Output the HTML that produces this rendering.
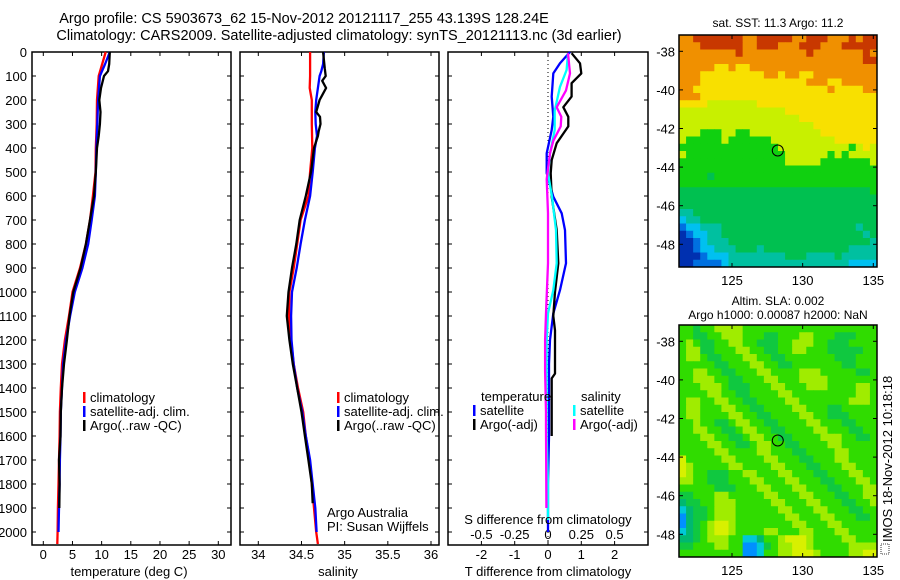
<!DOCTYPE html>
<html><head><meta charset="utf-8"><style>
html,body{margin:0;padding:0;background:#fff;}
svg{display:block;font-family:"Liberation Sans",sans-serif;}
text{fill:#000;}
</style></head><body>
<svg id="fig" width="900" height="580" viewBox="0 0 900 580">
<g font-size="14.5" text-anchor="middle">
<text x="304" y="23">Argo profile: CS 5903673_62 15-Nov-2012 20121117_255 43.139S 128.24E</text>
<text x="339" y="40">Climatology: CARS2009. Satellite-adjusted climatology: synTS_20121113.nc (3d earlier)</text>
</g>
<g id="p1"></g>
<g id="p2"></g>
<g id="p3"></g>
<g id="m1"></g>
<g id="m2"></g>
<g>
<rect x="881" y="544" width="8" height="10" fill="none" stroke="#000" stroke-width="0.8" stroke-dasharray="1,1"/>
<text x="0" y="0" font-size="13" transform="translate(892,542) rotate(-90)">IMOS 18-Nov-2012 10:18:18</text>
</g>
</svg>
<script>
// ---------- data ----------
const tDepth = [0,50,100,200,300,400,500,600,700,800,900,1000,1100,1200,1300,1400,1500,1600,1700,1800,1900,2000,2050];
const tClim  = [10.7,10.1,9.5,9.2,9.15,9.0,8.95,8.5,8.0,7.3,6.3,5.0,4.4,3.7,3.2,3.0,2.85,2.8,2.7,2.6,2.5,2.45,2.4];
const tSatDepth = [0,50,100,200,300,400,500,600,700,800,900,1000,1100,1200,1300,1400,1500,1600,1700,1800,1900,2000];
const tSat   = [11.4,10.6,9.7,9.4,9.25,9.1,9.0,8.85,8.3,7.7,6.7,5.4,4.6,3.9,3.4,3.2,3.0,2.95,2.85,2.8,2.7,2.6];
const tArgoDepth = [0,50,80,100,150,200,250,300,350,400,500,600,700,800,900,1000,1100,1200,1300,1400,1500,1600,1700,1800,1900];
const tArgo  = [11.4,11.3,11.1,10.4,9.9,9.6,9.8,9.7,9.5,9.2,9.0,8.7,8.0,7.3,6.4,5.15,4.5,4.05,3.55,3.2,3.0,2.95,2.7,2.8,2.75];

const sClimDepth = [0,100,150,200,300,400,500,600,700,800,900,1000,1100,1200,1300,1400,1500,1600,1700,1800,1900,2000,2050];
const sClim = [34.60,34.60,34.595,34.62,34.62,34.625,34.60,34.58,34.49,34.45,34.41,34.36,34.355,34.38,34.41,34.46,34.52,34.55,34.595,34.62,34.645,34.67,34.69];
const sSatDepth = [0,50,80,100,150,200,250,300,350,400,500,600,700,800,900,1000,1100,1200,1300,1400,1500,1600,1700,1800,1900,2000];
const sSat = [34.76,34.75,34.73,34.71,34.69,34.67,34.66,34.665,34.68,34.655,34.63,34.60,34.54,34.49,34.445,34.39,34.38,34.385,34.41,34.45,34.51,34.55,34.60,34.63,34.66,34.675];
const sArgoDepth = [0,70,100,120,150,180,200,250,270,300,330,350,400,500,600,700,800,900,1000,1100,1200,1300,1400,1500,1600,1700,1800,1880];
const sArgo = [34.75,34.77,34.78,34.74,34.785,34.74,34.71,34.67,34.715,34.72,34.70,34.69,34.645,34.61,34.55,34.48,34.44,34.39,34.35,34.33,34.36,34.40,34.45,34.50,34.54,34.58,34.62,34.63];

const dTSatDepth = [0,47,89,186,270,325,422,505,603,672,742,880,992,1089,1200,1300,1450,1600,1800,2000];
const dTSat = [0.66,0.36,0.16,0.11,0.16,0.11,-0.04,-0.04,0.16,0.41,0.51,0.54,0.36,0.16,0.06,0.03,0.03,0.03,0.0,0.0];
const dTArgoDepth = [5,47,89,130,186,230,270,310,340,380,450,505,603,742,880,1000,1100,1160,1340,1360,1600];
const dTArgo = [0.71,0.96,1.0,0.71,0.71,0.46,0.61,0.61,0.46,0.26,0.11,0.08,0.11,0.26,0.31,0.21,0.16,0.21,0.21,0.11,0.11];
const dSSatDepth = [5,75,145,245,325,422,505,603,742,880,992,1089,1200,1400,1600,1800,1950];
const dSSat = [0.15,0.14,0.09,0.05,0.05,0.015,0.0,0.03,0.06,0.065,0.04,0.0,-0.01,-0.01,-0.01,0.0,0.0];
const dSArgoDepth = [5,89,160,230,270,310,370,422,530,672,880,1089,1200,1330,1500,1560,1900];
const dSArgo = [0.15,0.165,0.135,0.065,0.1,0.095,0.04,0.015,-0.01,0.0,0.0,-0.015,-0.022,-0.022,-0.015,-0.015,-0.012];

const depthTicks = [0,100,200,300,400,500,600,700,800,900,1000,1100,1200,1300,1400,1500,1600,1700,1800,1900,2000];
const tTicks = [0,5,10,15,20,25,30];
const sTicks = [34,34.5,35,35.5,36];
const sTickLabels = ["34","34.5","35","35.5","36"];
const dTTicks = [-2,-1,0,1,2];
const dSTicks = [-0.5,-0.25,0,0.25,0.5];
const dSTickLabels = ["-0.5","-0.25","0","0.25","0.5"];
const latTicks = [-38,-40,-42,-44,-46,-48];
const lonTicks = [125,130,135];
const argoLon = 128.24, argoLat = -43.139;

// SST colour-level grid (rows north->south, cols west->east)
const sstGrid = [
"8899999998899999889998889899","8889999998899988899988899999","8888888898888888889888888898","8888888888888888888888888899",
"8888877877888888888888888888","8887777777778878877888888888","8887777777777777778887788888","8877777777777777777778777788",
"8887777777777777777777777777","7777666666677777777777777777","6666666666666667777777777777","6666666666666666677777777777",
"6666666666666666666777777777","6665556655666666666677777777","6555556555555666666666777777","5555555555555566666666665676",
"6555555555555556666665656666","5555555555555556666655555556","5555555555555555555555555555","5555455555555555555555555555",
"5555555555555555555555555555","4444444444444444444444444445","4444444444444444444444444444","4444444444444444444444444444",
"3344444444444444444444444444","2334444444444444444444444444","1223334444444444444444444344","0122334444444444444444444434",
"0012333444444444444444444443","0012233344434444444444443333","0001222333333334443333433333","0011112333333333333333332222"];
const sstColors = ["#0030b0","#0070e0","#00c0f0","#00c0a0","#00c050","#10d010","#c8f000","#f8e000","#f09000","#c83800"];
// SLA colour-level grid
const slaGrid = [
"4434455554444444444444444444","4433445554443344455444333444","4543344554433344555443334444","4553344455443344554443333344",
"4554334445544334444444333444","4444433444554433444444433444","4455443344455444455544444334","4455544334445544455554444444",
"4445554333444554445554444554","4444554433444455444444444554","4554455443344445544444445554","4554445544334444554443344444",
"4554444554433444455443334444","4454433455443344445544433444","4455443345544334444554443344","4445544334554433444455544334",
"4444554433455443344445544444","4444455444455444334444554444","6444445544445544433444554444","6544444554444554443344455444",
"6544333445544455444334445544","5544333444554445544433444554","4444433344455444554443344455","3344455444445544455444334455",
"2334455544444554445544433445","1233455544444455444554443344","0233455544444445544455444334","0234566544444444554445544444",
"1234566544445544455444554444","2234555441124456665444455444","3344455440013455665444445555","4444444440014455666544445566"];
const slaColors = ["#0090ff","#00c8d8","#00b870","#10c840","#30dc00","#a0ec00","#d8f000"];

// ---------- helpers ----------
const NS="http://www.w3.org/2000/svg";
function mk(tag,attrs,parent){const e=document.createElementNS(NS,tag);for(const k in attrs)e.setAttribute(k,attrs[k]);parent.appendChild(e);return e;}
const Y0=52, YB=545, DMAX=(YB-Y0)/0.24;
function yD(d){return Y0+d*(YB-Y0)/DMAX;}
function lin(d0,d1,r0,r1){return v=>r0+(v-d0)*(r1-r0)/(d1-d0);}

function panelFrame(g,L,R,leftLabels){
  const r=mk('rect',{x:L,y:Y0,width:R-L,height:YB-Y0,fill:'none',stroke:'#000','stroke-width':1.5},g);
  
  
  depthTicks.forEach(d=>{
    const y=yD(d);
    mk('line',{x1:L,x2:L+4,y1:y,y2:y,stroke:'#000'},g);
    mk('line',{x1:R-4,x2:R,y1:y,y2:y,stroke:'#000'},g);
    if(leftLabels){
      const t=mk('text',{x:L-5,y:y+5,'font-size':13,'text-anchor':'end'},g);
      t.textContent=d;
      
      
    }
  });
}
function xTicks(g,L,R,ticks,labels,sx,y,top){
  ticks.forEach((v,i)=>{
    const x=sx(v);
    mk('line',{x1:x,x2:x,y1:YB-4,y2:YB,stroke:'#000'},g);
    if(top) mk('line',{x1:x,x2:x,y1:Y0,y2:Y0+4,stroke:'#000'},g);
    const t=mk('text',{x:x,y:y,'font-size':13,'text-anchor':'middle'},g);
    t.textContent=labels[i];
    
    
  });
}
function series(g,depths,vals,sx,color,name){
  const pts=depths.map((d,i)=>sx(vals[i]).toFixed(1)+','+yD(d).toFixed(1));
  const p=mk('polyline',{points:pts.join(' '),fill:'none',stroke:color,'stroke-width':2.3,'stroke-linejoin':'round'},g);
  
  
}
function legend(g,x,y,color,label){
  mk('rect',{x:x,y:y-10,width:2.5,height:11,fill:color},g);
  const t=mk('text',{x:x+7,y:y,'font-size':13},g);
  t.textContent=label;
  
  
}

// ---------- temperature panel ----------
(function(){
  const g=document.getElementById('p1');
  const L=32,R=231, sx=lin(0,30,43.3,218.3);
  panelFrame(g,L,R,true);
  xTicks(g,L,R,tTicks,tTicks.map(String),sx,559,true);
  series(g,tDepth,tClim,sx,'#ff0000','temp-climatology-line');
  series(g,tSatDepth,tSat,sx,'#0000ff','temp-satellite-line');
  series(g,tArgoDepth,tArgo,sx,'#000000','temp-argo-line');
  legend(g,83,402,'#ff0000','climatology');
  legend(g,83,416,'#0000ff','satellite-adj. clim.');
  legend(g,83,430,'#000000','Argo(..raw -QC)');
  const t=mk('text',{x:129,y:576,'font-size':13,'text-anchor':'middle'},g);
  t.textContent='temperature (deg C)';
  
  
})();
// ---------- salinity panel ----------
(function(){
  const g=document.getElementById('p2');
  const L=240,R=439, sx=lin(34,36,258.3,431);
  panelFrame(g,L,R,false);
  xTicks(g,L,R,sTicks,sTickLabels,sx,559,true);
  series(g,sClimDepth,sClim,sx,'#ff0000','sal-climatology-line');
  series(g,sSatDepth,sSat,sx,'#0000ff','sal-satellite-line');
  series(g,sArgoDepth,sArgo,sx,'#000000','sal-argo-line');
  legend(g,337,402,'#ff0000','climatology');
  legend(g,337,416,'#0000ff','satellite-adj. clim.');
  legend(g,337,430,'#000000','Argo(..raw -QC)');
  const a=mk('text',{x:327,y:517,'font-size':13},g);a.textContent='Argo Australia';
  
  
  const b=mk('text',{x:327,y:531,'font-size':13},g);b.textContent='PI: Susan Wijffels';
  
  
  const t=mk('text',{x:338,y:576,'font-size':13,'text-anchor':'middle'},g);
  t.textContent='salinity';
  
  
})();
// ---------- difference panel ----------
(function(){
  const g=document.getElementById('p3');
  const L=448,R=648, sxT=lin(0,1,548,581.3), sxS=lin(0,0.25,548,581.3);
  panelFrame(g,L,R,false);
  mk('line',{x1:sxT(0),x2:sxT(0),y1:Y0,y2:YB,stroke:'#000','stroke-width':1,'stroke-dasharray':'1,3'},g);
  xTicks(g,L,R,dTTicks,dTTicks.map(String),sxT,559,true);
  dSTicks.forEach((v,i)=>{
    const t=mk('text',{x:sxS(v),y:539,'font-size':13,'text-anchor':'middle'},g);
    t.textContent=dSTickLabels[i];
    
    
  });
  series(g,dTSatDepth,dTSat,sxT,'#0000ff','tdiff-satellite-line');
  series(g,dTArgoDepth,dTArgo,sxT,'#000000','tdiff-argo-line');
  series(g,dSSatDepth,dSSat,sxS,'#00ffff','sdiff-satellite-line');
  series(g,dSArgoDepth,dSArgo,sxS,'#ff00ff','sdiff-argo-line');
  const h1=mk('text',{x:481,y:401,'font-size':13},g);h1.textContent='temperature';
  
  
  const h2=mk('text',{x:581,y:401,'font-size':13},g);h2.textContent='salinity';
  
  
  legend(g,473,415,'#0000ff','satellite');
  legend(g,473,429,'#000000','Argo(-adj)');
  legend(g,573,415,'#00ffff','satellite');
  legend(g,573,429,'#ff00ff','Argo(-adj)');
  const s=mk('text',{x:548,y:524,'font-size':13,'text-anchor':'middle'},g);
  s.textContent='S difference from climatology';
  
  
  const t=mk('text',{x:548,y:576,'font-size':13,'text-anchor':'middle'},g);
  t.textContent='T difference from climatology';
  
  
})();
// ---------- maps ----------
function drawMap(id,top,bottom,grid,colors,titles,titleYs,labY){
  const g=document.getElementById(id);
  const L=679,R=877;
  const sx=lin(125,135,732,873.3), sy=lin(-38,-48,top+16.3,top+209.3);
  const rows=grid.length, cols=grid[0].length, cw=(R-L)/cols, ch=(bottom-top)/rows;
  for(let r=0;r<rows;r++){for(let c=0;c<cols;c++){
    const cell=mk('rect',{x:(L+c*cw).toFixed(2),y:(top+r*ch).toFixed(2),width:(cw+0.4).toFixed(2),height:(ch+0.4).toFixed(2),fill:colors[+grid[r][c]]},g);
    
    
  }}
  const f=mk('rect',{x:L,y:top,width:R-L,height:bottom-top,fill:'none',stroke:'#000','stroke-width':1.5},g);
  
  
  latTicks.forEach(v=>{
    const y=sy(v);
    mk('line',{x1:L,x2:L+4,y1:y,y2:y,stroke:'#000'},g);
    mk('line',{x1:R-4,x2:R,y1:y,y2:y,stroke:'#000'},g);
    const t=mk('text',{x:L-4,y:y+5,'font-size':13,'text-anchor':'end'},g);
    t.textContent=String(v);
    
    
  });
  lonTicks.forEach(v=>{
    const x=sx(v);
    mk('line',{x1:x,x2:x,y1:top,y2:top+4,stroke:'#000'},g);
    mk('line',{x1:x,x2:x,y1:bottom-4,y2:bottom,stroke:'#000'},g);
    const t=mk('text',{x:x,y:labY,'font-size':13,'text-anchor':'middle'},g);
    t.textContent=String(v);
    
    
  });
  const c=mk('circle',{cx:sx(argoLon),cy:sy(argoLat),r:5.5,fill:'none',stroke:'#000','stroke-width':1},g);
  
  
  titles.forEach((s,i)=>{
    const t=mk('text',{x:778,y:titleYs[i],'font-size':12,'text-anchor':'middle'},g);
    t.textContent=s;
    
    
  });
}
drawMap('m1',35,267,sstGrid,sstColors,['sat. SST: 11.3 Argo: 11.2'],[27],285);
drawMap('m2',325,557,slaGrid,slaColors,['Altim. SLA: 0.002','Argo h1000: 0.00087 h2000: NaN'],[305,319],575);
</script>
</body></html>
